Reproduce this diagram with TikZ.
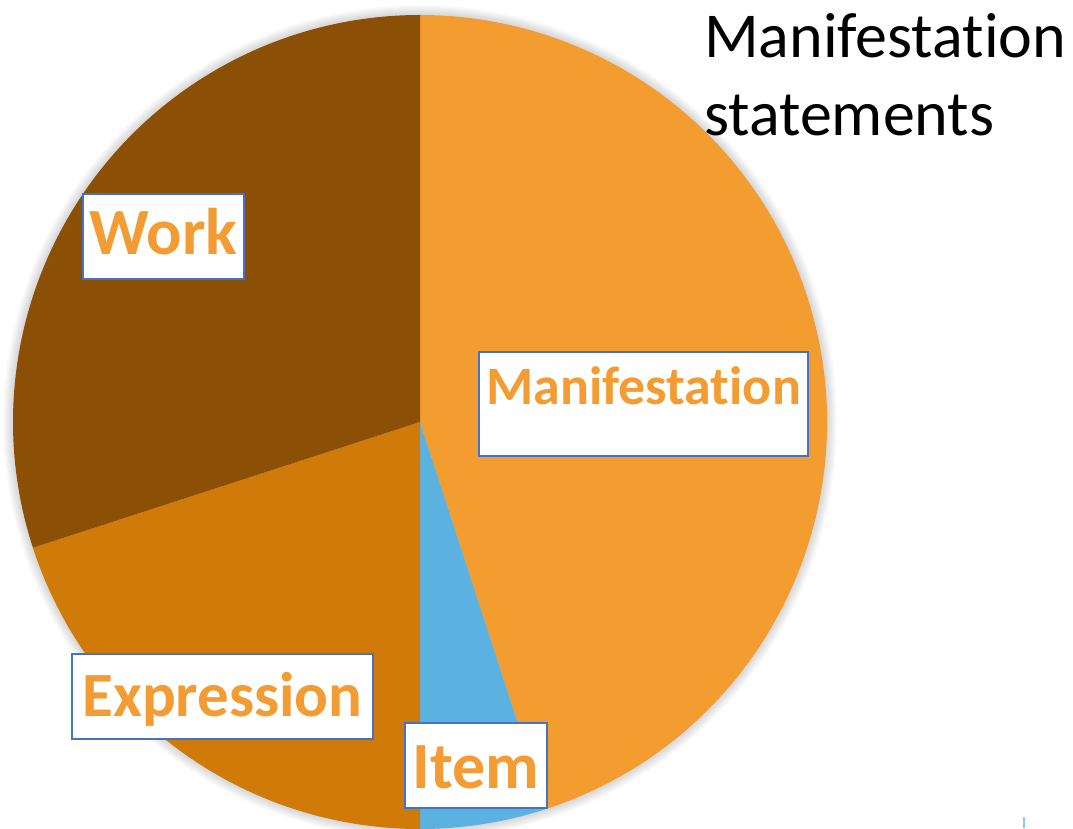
\documentclass[tikz,border=0pt]{standalone}
\usepackage{fontspec}
\setmainfont{Carlito}[Ligatures={NoCommon,NoContextual}]
\definecolor{manc}{HTML}{F39C2F}
\definecolor{itemc}{HTML}{5BB1E0}
\definecolor{exprc}{HTML}{D07A0A}
\definecolor{workc}{HTML}{8B4F06}
\definecolor{boxline}{HTML}{4472C4}
\definecolor{labc}{HTML}{F39C33}
\definecolor{markc}{HTML}{8EC8F5}
\tikzset{
  lab/.style={draw=boxline, line width=1.5pt, fill=white, text=labc, inner sep=0pt, anchor=base},
  bigfont/.style={font=\fontsize{#1}{#1}\selectfont\bfseries},
}
\begin{document}
\begin{tikzpicture}[x=1pt,y=1pt]
\useasboundingbox (0,0) rectangle (1073,828);
\coordinate (c) at (420,406);
% soft shadow
\foreach \i in {1,...,10}{
  \fill[black, opacity=0.016] (c) circle[radius=407+\i];
}
\fill[manc] (c) -- ++(-72:407) arc[start angle=-72,end angle=90,radius=407] -- cycle;
\fill[itemc] (c) -- ++(-90:407) arc[start angle=-90,end angle=-72,radius=407] -- cycle;
\fill[exprc] (c) -- ++(198:407) arc[start angle=198,end angle=270,radius=407] -- cycle;
\fill[workc] (c) -- ++(90:407) arc[start angle=90,end angle=198,radius=407] -- cycle;
\node[lab, bigfont=66, minimum width=161pt, text height=61pt, text depth=24pt] (work) at (163.5,573) {Work};
\node[lab, bigfont=54, minimum width=329pt, text height=53pt, text depth=51pt] (man) at (643.5,423) {Manifestation};
\node[lab, bigfont=63, minimum width=301pt, text height=62pt, text depth=23pt] (expr) at (222.5,112) {Expression};
\node[lab, bigfont=66, minimum width=142pt, text height=65pt, text depth=20pt] (item) at (476,40) {Item};
\node[anchor=north west, align=left, inner sep=0pt, font=\fontsize{64}{78}\selectfont] (title) at (704,815) {Manifestation\\statements};
\coordinate (m1) at (1024,11);
\coordinate (m2) at (1024,0);
\draw[markc, line width=2pt] (m1) -- (m2);
\end{tikzpicture}
\end{document}
